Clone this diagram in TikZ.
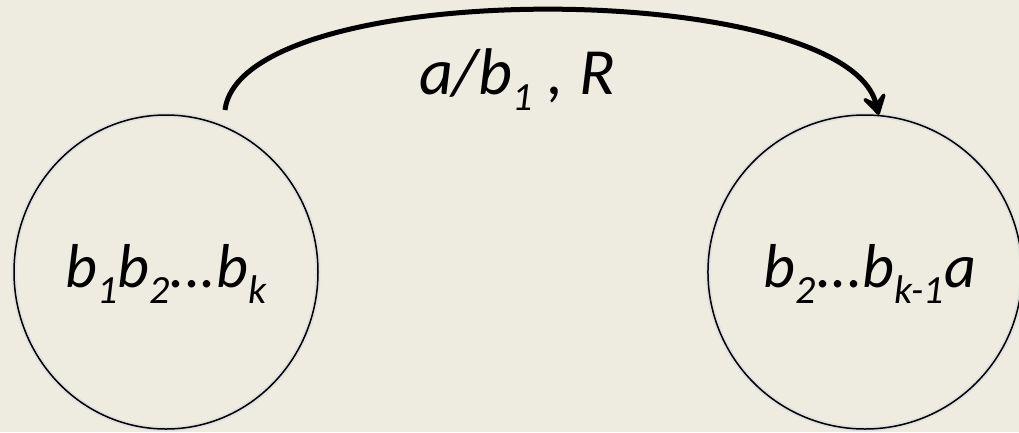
\documentclass[tikz,border=0pt]{standalone}
\usepackage{fontspec}
\setmainfont{Carlito}
\usetikzlibrary{arrows.meta,shapes.geometric}
\definecolor{tanbg}{HTML}{EEECE1}
\newcommand{\lowidx}[1]{\raisebox{-16pt}{\fontsize{40}{40}\selectfont #1}}

\begin{document}
\begin{tikzpicture}[x=1pt,y=-1pt,
  every node/.style={font=\itshape},
  statenode/.style={ellipse, draw=black, line width=1.5pt,
    minimum width=304pt, minimum height=314pt, inner sep=0pt,
    text height=48pt, text depth=17pt,
    preaction={draw=black!12, line width=5pt},
    font=\fontsize{62}{70}\selectfont\itshape},
  moveline/.style={line width=5pt, -{Stealth[length=27pt,width=32pt,inset=13pt,round]}}]

% Background
\fill[tanbg] (0,0) rectangle (1019,432);
\useasboundingbox (0,0) rectangle (1019,432);

% States
\node[statenode] (lft) at (166,272) {b\lowidx{1}b\lowidx{2}...b\lowidx{k}};
\node[statenode] (rgt) at (865,272) {\hspace*{10pt}b\lowidx{2}...b\lowidx{k-1}a};

% Transition
\coordinate (arcstart) at (225,110);
\draw[moveline] (arcstart) .. controls (242,-25) and (845,-22) .. (rgt.85);
\node[font=\fontsize{66}{70}\selectfont\itshape, text height=48pt, text depth=17pt]
  (lbl) at (517,79) {a/b\lowidx{1} , R};

\end{tikzpicture}
\end{document}
